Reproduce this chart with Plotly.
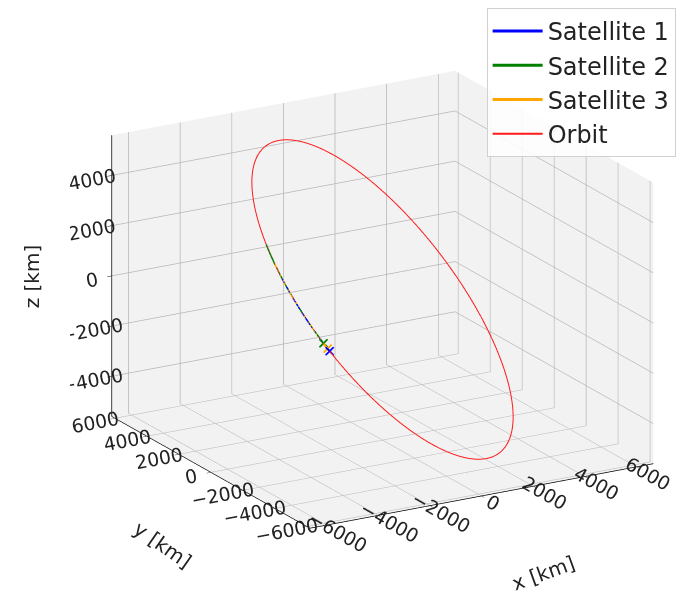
import numpy as np
import plotly.graph_objects as go

# Orbital elements (circular orbit)
orbit_radius_km = 6780.0
inclination_deg = 52.0
raan_deg = 47.0

# Satellite tracks along the orbit (argument of latitude, degrees)
sat_names = ["Satellite 1", "Satellite 2", "Satellite 3"]
sat_colors = ["blue", "green", "orange"]
sat_arg_start_deg = [146.0, 135.0, 142.0]
sat_arg_end_deg = [174.0, 171.0, 173.0]

xy_ticks = [-6000, -4000, -2000, 0, 2000, 4000, 6000]
z_ticks = [-4000, -2000, 0, 2000, 4000]
x_range = [-6650, 6650]
y_range = [-6200, 6200]
z_range = [-5600, 5600]
axis_titles = {"x": "x [km]", "y": "y [km]", "z": "z [km]"}

view_azim_deg = -120.0
view_elev_deg = 19.0
view_dist = 1.47
box_scale = 1.36


def orbit_xyz(u_deg):
    u = np.radians(np.asarray(u_deg, dtype=float))
    i = np.radians(inclination_deg)
    om = np.radians(raan_deg)
    r = orbit_radius_km
    x = r * (np.cos(om) * np.cos(u) - np.sin(om) * np.sin(u) * np.cos(i))
    y = r * (np.sin(om) * np.cos(u) + np.cos(om) * np.sin(u) * np.cos(i))
    z = r * (np.sin(u) * np.sin(i))
    return x, y, z


fig = go.Figure()

for name, col, u0, u1 in zip(sat_names, sat_colors, sat_arg_start_deg, sat_arg_end_deg):
    uu = np.linspace(u0, u1, 60)
    x, y, z = orbit_xyz(uu)
    fig.add_trace(go.Scatter3d(x=x, y=y, z=z, mode="lines", name=name,
                               line=dict(color=col, width=3)))
    fig.add_trace(go.Scatter3d(x=x[-1:], y=y[-1:], z=z[-1:], mode="markers",
                               showlegend=False,
                               marker=dict(color=col, size=2, symbol="x")))

uo = np.linspace(0, 360, 361)
xo, yo, zo = orbit_xyz(uo)
fig.add_trace(go.Scatter3d(x=xo, y=yo, z=zo, mode="lines", name="Orbit",
                           line=dict(color="#ff1a1a", width=2)))

tfont = dict(family="DejaVu Sans", size=15, color="#222222")
title_font = dict(family="DejaVu Sans", size=20, color="#222222")


def axis(rng, ticks):
    return dict(title=dict(text=""), range=rng, tickvals=ticks,
                tickfont=tfont, backgroundcolor="rgb(242,242,242)",
                showbackground=True, gridcolor="rgb(182,182,182)",
                gridwidth=1.5, zeroline=False, showline=True,
                linecolor="black", linewidth=1.5, ticks="outside",
                tickcolor="black", ticklen=5, showspikes=False)


a = np.radians(view_azim_deg)
e = np.radians(view_elev_deg)
eye = dict(x=view_dist * np.cos(e) * np.cos(a),
           y=view_dist * np.cos(e) * np.sin(a),
           z=view_dist * np.sin(e))

annotations = [
    dict(text=axis_titles["z"], x=0.035, y=0.548, textangle=-90),
    dict(text=axis_titles["y"], x=0.223, y=0.094, textangle=35),
    dict(text=axis_titles["x"], x=0.772, y=0.047, textangle=-20),
]
for ann in annotations:
    ann.update(xref="paper", yref="paper", showarrow=False,
               xanchor="center", yanchor="middle", font=title_font)

fig.update_layout(
    width=694, height=593,
    paper_bgcolor="white",
    margin=dict(l=0, r=0, t=0, b=0),
    scene=dict(
        xaxis=axis(x_range, xy_ticks),
        yaxis=axis(y_range, xy_ticks),
        zaxis=axis(z_range, z_ticks),
        aspectmode="manual",
        aspectratio=dict(x=box_scale, y=box_scale, z=0.75 * box_scale),
        camera=dict(eye=eye,
                    center=dict(x=0, y=0, z=0),
                    up=dict(x=0, y=0, z=1),
                    projection=dict(type="orthographic")),
        domain=dict(x=[0.09, 0.99], y=[0.017, 1]),
    ),
    annotations=annotations,
    legend=dict(x=0.962, y=1.0, xanchor="right", yanchor="top",
                bgcolor="rgba(255,255,255,0.85)", bordercolor="#d0d0d0",
                borderwidth=1, itemwidth=50, tracegroupgap=0,
                font=dict(family="DejaVu Sans", size=24, color="#222222")),
)

fig.write_html("out.html")
